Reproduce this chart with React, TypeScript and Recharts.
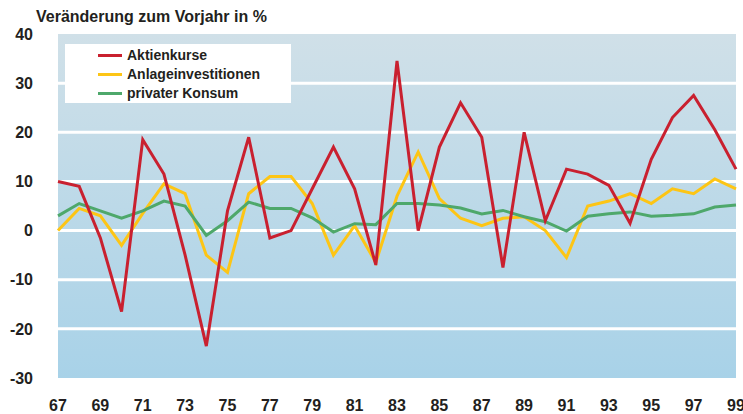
import React from 'react';
import { LineChart, Line, XAxis, YAxis, ReferenceArea, ReferenceLine } from 'recharts';

const years = ['67','68','69','70','71','72','73','74','75','76','77','78','79','80','81','82','83','84','85','86','87','88','89','90','91','92','93','94','95','96','97','98','99'];
const aktienkurse = [10, 9, -1.5, -16.5, 18.5, 11.5, -5, -23.5, 4, 19, -1.5, 0, 8.5, 17, 8.5, -7, 34.5, 0, 17, 26, 19, -7.5, 20, 2, 12.5, 11.5, 9.2, 1.5, 14.5, 23, 27.5, 20.5, 12.5];
const anlageinvestitionen = [0, 4.5, 3, -3, 3.5, 9.5, 7.5, -5, -8.5, 7.5, 11, 11, 5.5, -5, 1, -6.5, 7, 16, 6.5, 2.5, 1, 2.5, 2.8, 0, -5.5, 5, 6, 7.5, 5.5, 8.5, 7.5, 10.5, 8.5];
const privaterKonsum = [3, 5.5, 4, 2.5, 4, 6, 5, -1, 2, 5.8, 4.5, 4.5, 2.6, -0.3, 1.4, 1.2, 5.5, 5.5, 5.2, 4.6, 3.4, 4.1, 2.8, 1.8, -0.1, 2.9, 3.4, 3.8, 2.9, 3.1, 3.4, 4.8, 5.2];
const yTicks = [-30, -20, -10, 0, 10, 20, 30, 40];
const gridValues = [-20, -10, 0, 10, 20, 30];

const series = [
  { key: 'aktien', name: 'Aktienkurse', color: '#c9202f' },
  { key: 'anlage', name: 'Anlageinvestitionen', color: '#fdc515' },
  { key: 'konsum', name: 'privater Konsum', color: '#4ea86b' },
];

const data = years.map((y, i) => ({
  year: y,
  aktien: aktienkurse[i],
  anlage: anlageinvestitionen[i],
  konsum: privaterKonsum[i],
}));

const font = '"Liberation Sans", Arial, Helvetica, sans-serif';
const tickStyle = { fontFamily: font, fontSize: 16, fontWeight: 700, fill: '#231f20' };

export default function App() {
  const drawOrder = [series[1], series[2], series[0]];
  return (
    <div style={{ position: 'absolute', left: 0, top: 0, width: 743, height: 414, background: '#fff' }}>
      <LineChart width={743} height={414} data={data} margin={{ top: 34, right: 0, bottom: 0, left: 0 }}>
        <defs>
          <linearGradient id="bg" x1="0" y1="0" x2="0" y2="1">
            <stop offset="0%" stopColor="#d0e0e8" />
            <stop offset="100%" stopColor="#a8d2e8" />
          </linearGradient>
        </defs>
        <XAxis
          dataKey="year"
          interval={1}
          tickLine={false}
          axisLine={false}
          tickSize={0}
          tickMargin={22}
          height={36}
          padding={{ left: 9, right: 7 }}
          tick={tickStyle}
        />
        <YAxis
          type="number"
          domain={[-30, 40]}
          ticks={yTicks}
          tickLine={false}
          axisLine={false}
          tickSize={0}
          tickMargin={16}
          width={49}
          tick={tickStyle}
        />
        <ReferenceArea y1={-30} y2={40} fill="url(#bg)" fillOpacity={1} stroke="none" />
        {gridValues.map((v) => (
          <ReferenceLine key={v} y={v} stroke="#ffffff" strokeWidth={3} />
        ))}
        {drawOrder.map((s) => (
          <Line
            key={s.key}
            type="linear"
            dataKey={s.key}
            name={s.name}
            stroke={s.color}
            strokeWidth={3}
            dot={false}
            activeDot={false}
            isAnimationActive={false}
          />
        ))}
      </LineChart>
      <div style={{ position: 'absolute', left: 36, top: 8, fontFamily: font, fontSize: 16, fontWeight: 700, color: '#231f20', lineHeight: '18px', whiteSpace: 'nowrap' }}>
        Veränderung zum Vorjahr in %
      </div>
      <div style={{ position: 'absolute', left: 65, top: 44, width: 226, height: 59, background: '#ffffff' }}>
        {series.map((s, i) => (
          <div key={s.key} style={{ position: 'absolute', left: 33, top: 3 + i * 19, height: 16, display: 'flex', alignItems: 'center' }}>
            <div style={{ width: 24, height: 3, background: s.color }} />
            <span style={{ marginLeft: 5, fontFamily: font, fontSize: 14, fontWeight: 700, color: '#231f20', whiteSpace: 'nowrap', lineHeight: '16px' }}>{s.name}</span>
          </div>
        ))}
      </div>
    </div>
  );
}
